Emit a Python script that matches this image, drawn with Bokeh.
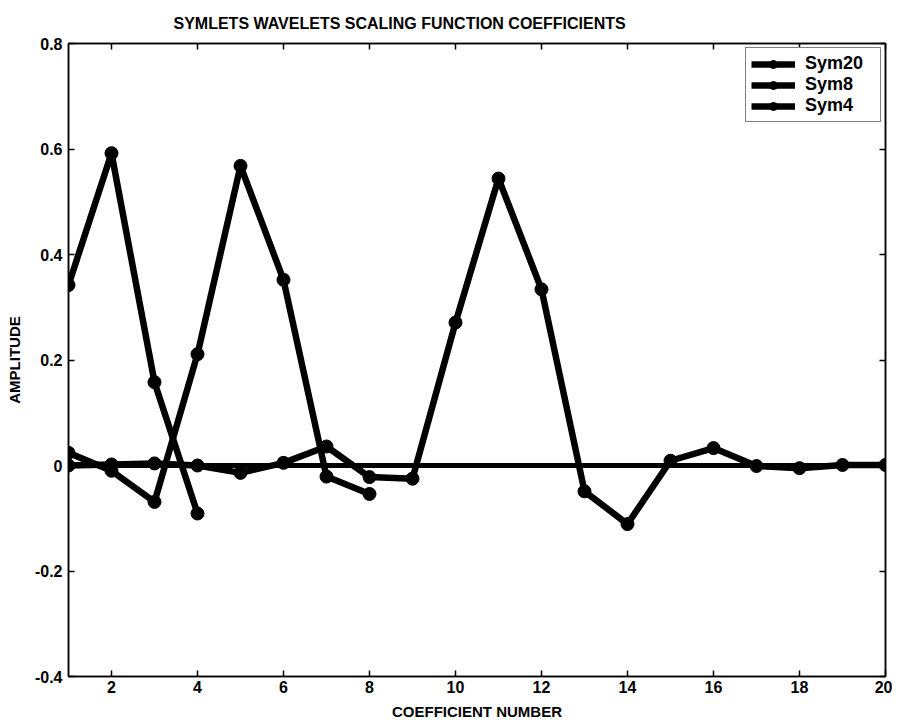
from bokeh.plotting import figure
from bokeh.models import Legend, LegendItem, LinearAxis, FixedTicker, Range1d
from bokeh.embed import file_html
from bokeh.resources import INLINE

# ---- data ----
title_text = "SYMLETS WAVELETS SCALING FUNCTION COEFFICIENTS"
x_label = "COEFFICIENT NUMBER"
y_label = "AMPLITUDE"

sym20_x = list(range(1, 21))
sym20_y = [0.000, 0.002, 0.004, 0.000, -0.014, 0.005, 0.036, -0.022, -0.025, 0.271,
           0.544, 0.334, -0.049, -0.111, 0.009, 0.033, -0.001, -0.005, 0.001, 0.001]

sym8_x = list(range(1, 9))
sym8_y = [0.024, -0.010, -0.069, 0.211, 0.568, 0.352, -0.021, -0.054]

sym4_x = [1, 2, 3, 4]
sym4_y = [0.342, 0.592, 0.158, -0.091]

zero_x = [1, 20]
zero_y = [0.0, 0.0]

x_ticks = [2, 4, 6, 8, 10, 12, 14, 16, 18, 20]
x_tick_labels = ["2", "4", "6", "8", "10", "12", "14", "16", "18", "20"]
y_ticks = [-0.4, -0.2, 0, 0.2, 0.4, 0.6, 0.8]
y_tick_labels = ["-0.4", "-0.2", "0", "0.2", "0.4", "0.6", "0.8"]
series_names = ["Sym20", "Sym8", "Sym4"]

FONT = "Liberation Sans"

p = figure(width=892, height=722, output_backend="svg", toolbar_location=None,
           x_range=Range1d(1, 20), y_range=Range1d(-0.4, 0.8),
           min_border_left=68, min_border_right=7, min_border_top=43, min_border_bottom=43,
           title=title_text)
p.background_fill_color = "white"
p.border_fill_color = "white"
p.outline_line_color = "black"
p.outline_line_width = 1.5
p.grid.visible = False

p.title.align = "left"
p.title.offset = 105
p.title.text_font = FONT
p.title.text_font_size = "16px"
p.title.text_font_style = "bold"
p.title.text_color = "black"
p.title.standoff = 23

def style_axis(ax):
    ax.major_tick_in = 6
    ax.major_tick_out = 0
    ax.minor_tick_in = 6
    ax.minor_tick_out = 0
    ax.major_tick_line_color = "black"
    ax.major_tick_line_width = 1.5
    ax.minor_tick_line_color = "black"
    ax.minor_tick_line_width = 1.5
    ax.axis_line_color = "black"
    ax.axis_line_width = 1.5
    ax.major_label_text_font = FONT
    ax.major_label_text_font_style = "bold"
    ax.major_label_text_color = "black"
    ax.major_label_text_font_size = "16px"
    ax.axis_label_text_font = FONT
    ax.axis_label_text_font_size = "15px"
    ax.axis_label_text_font_style = "bold"
    ax.axis_label_text_color = "black"

xa = p.xaxis[0]
xa.ticker = FixedTicker(ticks=x_ticks)
xa.major_label_overrides = dict(zip(x_ticks, x_tick_labels))
style_axis(xa)
xa.major_label_standoff = 4
xa.axis_label = x_label
xa.axis_label_standoff = 7

ya = p.yaxis[0]
ya.ticker = FixedTicker(ticks=y_ticks)
ya.major_label_overrides = dict(zip(y_ticks, y_tick_labels))
style_axis(ya)
ya.major_label_standoff = 6
ya.axis_label = y_label
ya.axis_label_standoff = 9

# box ticks on the top and right edges (tick marks only, no labels)
top_ax = LinearAxis(ticker=FixedTicker(ticks=[], minor_ticks=x_ticks))
style_axis(top_ax)
top_ax.major_label_standoff = 0
p.add_layout(top_ax, "above")
right_ax = LinearAxis(ticker=FixedTicker(ticks=[], minor_ticks=y_ticks))
style_axis(right_ax)
right_ax.major_label_standoff = 0
p.add_layout(right_ax, "right")

p.line(zero_x, zero_y, line_color="black", line_width=5)

items = []
for name, xs, ys in zip(series_names, [sym20_x, sym8_x, sym4_x], [sym20_y, sym8_y, sym4_y]):
    lr = p.line(xs, ys, line_color="black", line_width=6.5, line_join="round")
    sr = p.scatter(xs, ys, marker="circle", size=13, fill_color="black", line_color="black")
    items.append(LegendItem(label=name, renderers=[lr, sr]))

legend = Legend(items=items, location="top_right", margin=4, padding=5, spacing=0,
                glyph_width=44, glyph_height=20, label_height=20, label_width=70,
                label_standoff=10, label_text_font=FONT, label_text_font_size="18px",
                label_text_font_style="bold", label_text_color="black",
                border_line_color="black", border_line_width=1.5,
                background_fill_color="white", background_fill_alpha=1.0)
p.add_layout(legend)

open("out.html", "w").write(file_html(p, INLINE))
